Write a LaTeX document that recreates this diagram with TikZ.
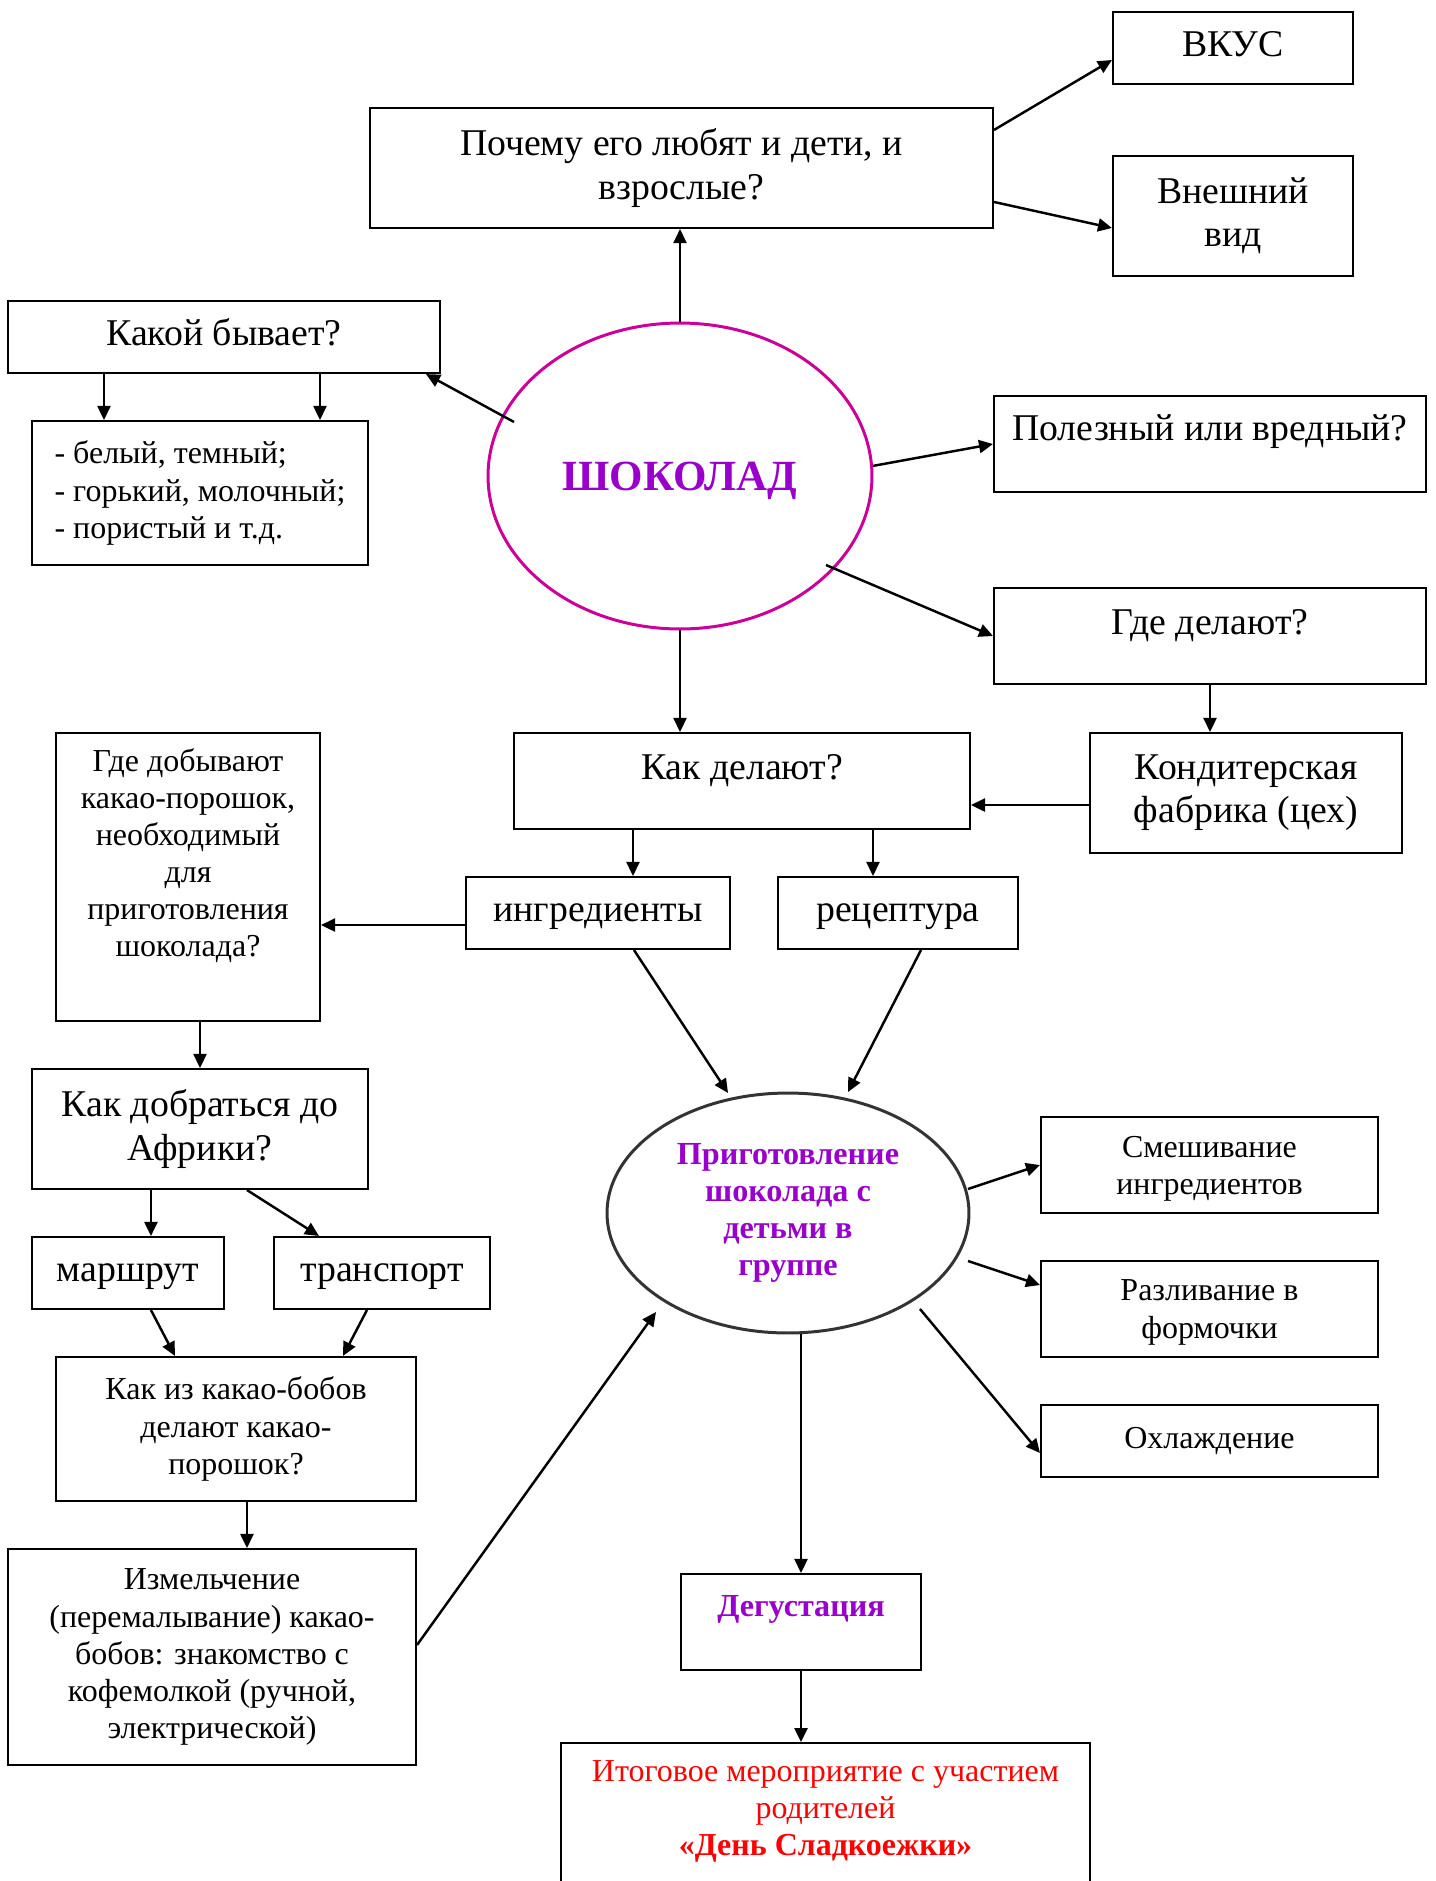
\documentclass[tikz,border=0pt]{standalone}
\usepackage{fontspec}
\setmainfont{Liberation Serif}
\usetikzlibrary{shapes.geometric,arrows.meta,calc}
\definecolor{shokviolet}{HTML}{9900CC}
\definecolor{shokrim}{HTML}{CC0099}
\definecolor{itogred}{HTML}{FF0000}
\tikzset{
  box/.style={draw, line width=1.2pt, align=center, inner sep=2pt},
  bigtxt/.style={font=\fontsize{21.5}{24.5}\selectfont},
  smalltxt/.style={font=\fontsize{18.2}{21.1}\selectfont},
  bigline/.style={text height=15pt, text depth=5pt},
  smallline/.style={text height=13pt, text depth=4.5pt},
  arr/.style={->, line width=1.4pt},
  >={Triangle[length=0.28cm,width=0.26cm]}
}
\begin{document}
\begin{tikzpicture}[x=0.02cm,y=-0.02cm]
\useasboundingbox (0,0) rectangle (1436,1881);

\node[box,bigtxt,bigline,minimum width=4.8cm,minimum height=1.44cm] (vkus) at (1233,48) {ВКУС};
\node[box,bigtxt,minimum width=4.8cm,minimum height=2.4cm] (vid) at (1233,216) {Внешний\\вид};
\node[box,bigtxt,minimum width=12.46cm,minimum height=2.4cm] (pochemu) at (681.5,168) {Почему его любят и дети, и\\взрослые?};
\node[box,bigtxt,bigline,minimum width=8.64cm,minimum height=1.44cm] (kakoy) at (224,337) {Какой бывает?};
\node[box,smalltxt,align=left,minimum width=6.72cm,minimum height=2.88cm] (vidy) at (200,493) {- белый, темный;\\- горький, молочный;\\- пористый и т.д.};
\node[ellipse,draw=shokrim,line width=1.7pt,minimum width=7.68cm,minimum height=6.12cm,text depth=0pt,text=shokviolet,font=\fontsize{24.5}{29}\selectfont\bfseries] (shok) at (680,476) {ШОКОЛАД};
\node[box,bigtxt,text height=15pt,text depth=18.6pt,minimum width=8.64cm,minimum height=1.92cm] (polez) at (1210,444) {Полезный или вредный?};
\node[box,bigtxt,text height=15pt,text depth=17.2pt,minimum width=8.64cm,minimum height=1.92cm] (gde) at (1210,636) {Где делают?};
\node[box,bigtxt,minimum width=6.24cm,minimum height=2.4cm] (kondit) at (1246,793) {Кондитерская\\фабрика (цех)};
\node[box,bigtxt,text height=15pt,text depth=16.9pt,minimum width=9.12cm,minimum height=1.92cm] (kak) at (742,781) {Как делают?};
\node[box,smalltxt,minimum width=5.28cm,minimum height=5.76cm,text depth=0.98cm] (dobyv) at (188,877) {Где добывают\\какао-порошок,\\необходимый\\для\\приготовления\\шоколада?};
\node[box,bigtxt,bigline,minimum width=5.28cm,minimum height=1.44cm] (ingr) at (598,913) {ингредиенты};
\node[box,bigtxt,bigline,minimum width=4.8cm,minimum height=1.44cm] (recep) at (898,913) {рецептура};
\node[box,bigtxt,minimum width=6.72cm,minimum height=2.4cm] (dobr) at (200,1129) {Как добраться до\\Африки?};
\node[box,bigtxt,bigline,minimum width=3.84cm,minimum height=1.44cm] (marsh) at (128,1273) {маршрут};
\node[box,bigtxt,bigline,minimum width=4.32cm,minimum height=1.44cm] (transp) at (382,1273) {транспорт};
\node[box,smalltxt,minimum width=7.2cm,minimum height=2.88cm] (kakiz) at (236,1429) {Как из какао-бобов\\делают какао-\\порошок?};
\node[box,smalltxt,minimum width=8.16cm,minimum height=4.32cm] (izmel) at (212,1657) {Измельчение\\(перемалывание) какао-\\бобов: знакомство с\\кофемолкой (ручной,\\электрической)};
\node[ellipse,draw=black!80,line width=1.7pt,minimum width=7.24cm,minimum height=4.8cm,align=center,text=shokviolet,font=\fontsize{18.3}{21.2}\selectfont\bfseries] (prig) at (788,1213) {Приготовление\\шоколада с\\детьми в\\группе};
\node[box,smalltxt,text depth=0pt,minimum width=6.74cm,minimum height=1.92cm] (smesh) at (1209.5,1165) {Смешивание\\ингредиентов};
\node[box,smalltxt,text depth=0pt,minimum width=6.74cm,minimum height=1.92cm] (razl) at (1209.5,1309) {Разливание в\\формочки};
\node[box,smalltxt,smallline,minimum width=6.74cm,minimum height=1.44cm] (ohl) at (1209.5,1441) {Охлаждение};
\node[box,text height=13pt,text depth=19.6pt,minimum width=4.8cm,minimum height=1.92cm,text=shokviolet,font=\fontsize{18.3}{21.2}\selectfont\bfseries] (degust) at (801,1622) {Дегустация};
\node[box,smalltxt,anchor=north,text depth=11pt,minimum width=10.58cm,minimum height=3cm,text=itogred] (itog) at (825.5,1742) {Итоговое мероприятие с участием\\родителей\\\textbf{«День Сладкоежки»}};

\draw[arr] (shok.north) -- (shok.north |- pochemu.south);
\draw[arr] ($(pochemu.north east)+(0,23)$) -- ($(vkus.west)+(0,12)$);
\draw[arr] ($(pochemu.north east)+(0,95)$) -- ($(vid.west)+(0,12)$);
\draw[arr] ($(shok.center)+(-166,-54)$) -- ($(kakoy.south east)+(-15,0)$);
\draw[arr] ($(kakoy.south west)+(97,0)$) coordinate (k1) -- (k1 |- vidy.north);
\draw[arr] ($(kakoy.south west)+(313,0)$) coordinate (k2) -- (k2 |- vidy.north);
\draw[arr] (shok.3) -- (polez.west);
\draw[arr] ($(shok.center)+(146,89)$) -- (gde.west);
\draw[arr] (gde.south) -- (gde.south |- kondit.north);
\draw[arr] ($(kondit.west)+(0,12)$) coordinate (k3) -- (k3 -| kak.east);
\draw[arr] (shok.south) -- (shok.south |- kak.north);

\draw[arr] ($(kak.south west)+(120,0)$) coordinate (k4) -- (k4 |- ingr.north);
\draw[arr] ($(kak.south west)+(360,0)$) coordinate (k5) -- (k5 |- recep.north);
\draw[arr] ($(ingr.west)+(0,12)$) coordinate (k6) -- (k6 -| dobyv.east);
\draw[arr] (dobr.north |- dobyv.south) -- (dobr.north);
\draw[arr] ($(dobr.south west)+(120,0)$) coordinate (k7) -- (k7 |- marsh.north);
\draw[arr] ($(dobr.south west)+(216,0)$) -- ($(transp.north west)+(46,0)$);
\draw[arr] ($(marsh.south west)+(120,0)$) -- ($(kakiz.north west)+(120,0)$);
\draw[arr] ($(transp.south west)+(94,0)$) -- ($(kakiz.north west)+(288,0)$);
\draw[arr] ($(kakiz.south west)+(192,0)$) coordinate (k8) -- (k8 |- izmel.north);
\draw[arr] ($(izmel.east)+(0,-12)$) -- ($(prig.center)+(-132,99)$);

\draw[arr] ($(ingr.south)+(36,0)$) -- ($(prig.center)+(-60,-120)$);
\draw[arr] ($(recep.south west)+(144,0)$) -- ($(prig.center)+(60,-121)$);
\draw[arr] ($(prig.center)+(180,-24)$) -- (smesh.west);
\draw[arr] ($(prig.center)+(180,48)$) -- ($(razl.west)+(0,-24)$);
\draw[arr] ($(prig.center)+(132,96)$) -- ($(ohl.west)+(0,12)$);
\draw[arr] (degust.north |- prig.south) -- (degust.north);
\draw[arr] (degust.south) -- (degust.south |- itog.north);

\end{tikzpicture}
\end{document}
